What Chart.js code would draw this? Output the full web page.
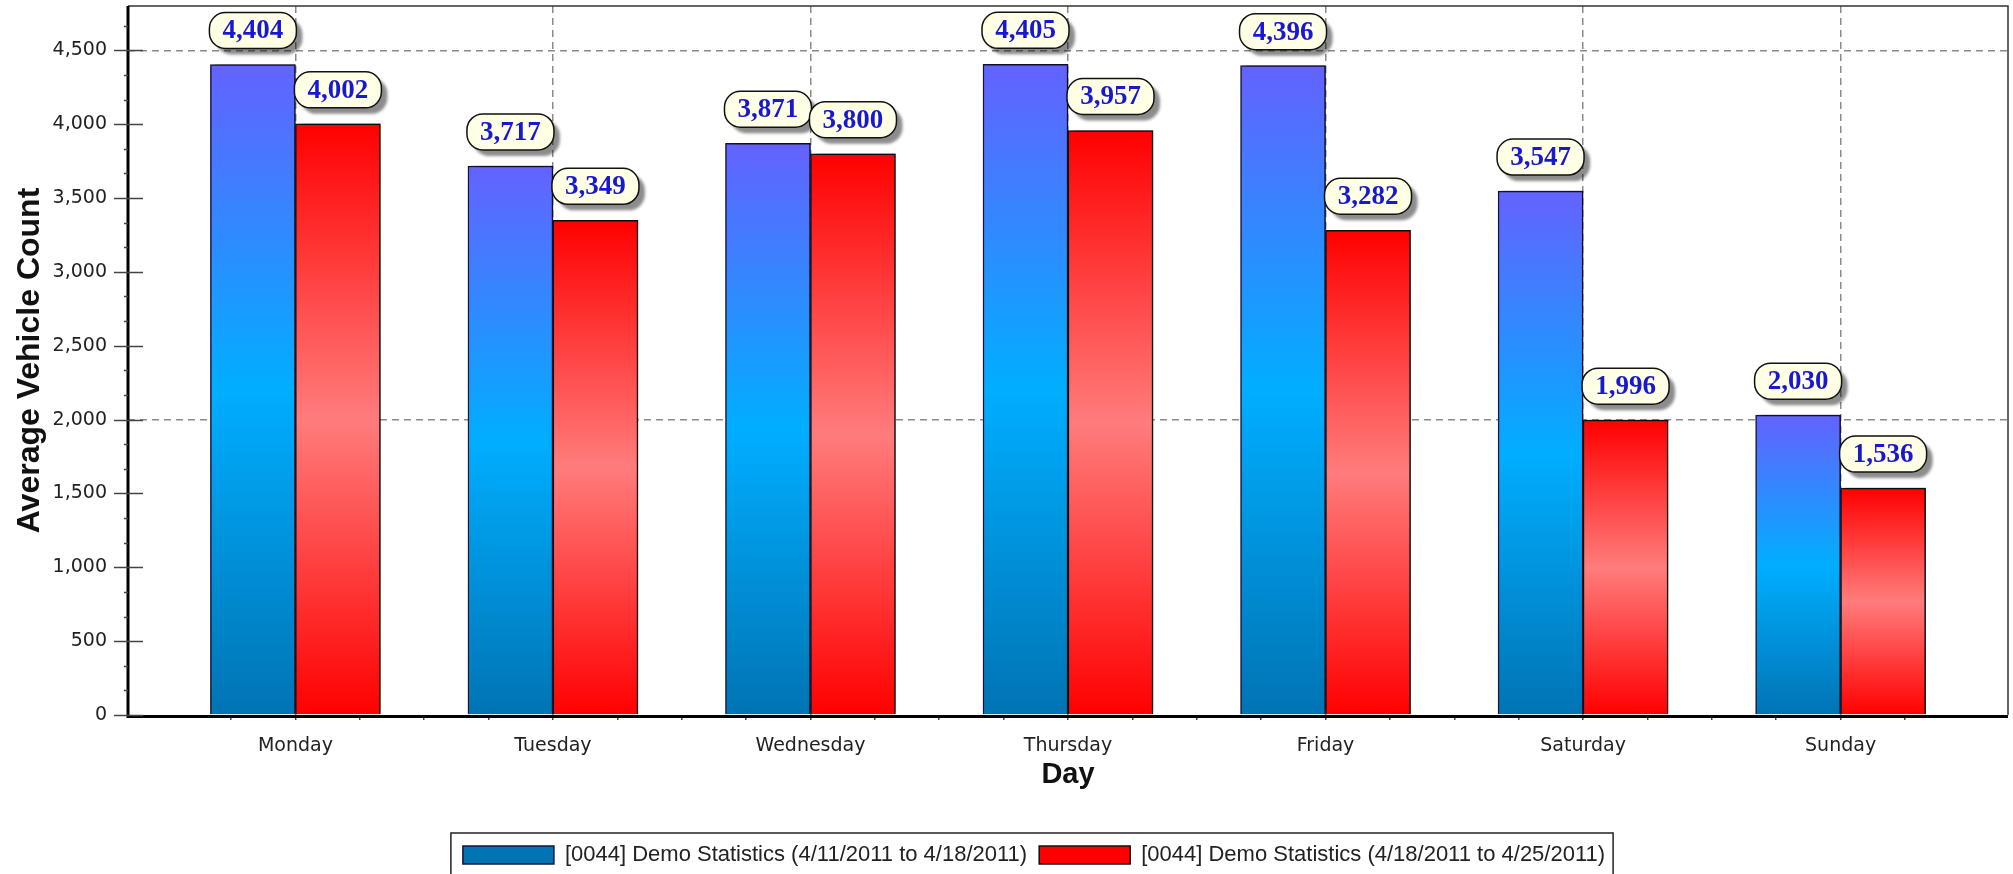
<!doctype html>
<html>
<head>
<script src="https://cdnjs.cloudflare.com/ajax/libs/Chart.js/4.4.1/chart.umd.min.js"></script>
<style>
  body { margin: 0; background: #fff; }
</style>
</head>
<body>
<canvas id="c1" width="2013" height="874"></canvas>
<script>
  let days = ['Monday', 'Tuesday', 'Wednesday', 'Thursday', 'Friday', 'Saturday', 'Sunday'];
  let week1 = [4404, 3717, 3871, 4405, 4396, 3547, 2030];
  let week2 = [4002, 3349, 3800, 3957, 3282, 1996, 1536];
  let seriesNames = ['[0044] Demo Statistics (4/11/2011 to 4/18/2011)', '[0044] Demo Statistics (4/18/2011 to 4/25/2011)'];
  let yTicks = [0, 500, 1000, 1500, 2000, 2500, 3000, 3500, 4000, 4500];
  let yMax = 4800;
  let yGridValues = [2000, 4500];

  // gradient per bar, from bar top to the zero line
  function barFill(stops, solid) {
    return function (c) {
      if (c.type !== 'data' || !c.chart.chartArea || !c.parsed) return solid;
      let y = c.chart.scales.y;
      let top = y.getPixelForValue(c.parsed.y), base = y.getPixelForValue(0);
      let g = c.chart.ctx.createLinearGradient(0, top, 0, base);
      stops.forEach(s => g.addColorStop(s[0], s[1]));
      return g;
    };
  }

  let isDay = v => Number.isInteger(v) && v >= 0 && v < days.length;
  let tickVal = c => (c && c.tick) ? c.tick.value : null;

  const decor = {
    id: 'decor',
    afterLayout(chart) {
      let lg = chart.legend, d = 30;
      lg.left += d; lg.right += d;
      lg.legendHitBoxes.forEach(h => h.left += d);
    },
    beforeDatasetsDraw(chart) {
      let c = chart.ctx;
      c.save();
      c.shadowColor = 'rgba(0,0,0,0.35)';
      c.shadowOffsetX = 5;
      c.shadowOffsetY = -3;
      c.shadowBlur = 4;
    },
    afterDatasetsDraw(chart) {
      let c = chart.ctx;
      c.restore();
      chart.data.datasets.forEach((ds, di) => {
        chart.getDatasetMeta(di).data.forEach((bar, i) => {
          let w = bar.width + 2, h = 36;
          let x = bar.x - w / 2, y = bar.y - 16 - h;
          c.save();
          c.shadowColor = 'rgba(0,0,0,0.45)';
          c.shadowOffsetX = 6; c.shadowOffsetY = 6; c.shadowBlur = 3;
          c.beginPath();
          c.roundRect(x, y, w, h, 16);
          c.fillStyle = '#FFFFE6';
          c.fill();
          c.shadowColor = 'transparent';
          c.lineWidth = 1.5;
          c.strokeStyle = '#111';
          c.stroke();
          c.fillStyle = '#1818D0';
          c.font = 'bold 27px "Liberation Serif"';
          c.textAlign = 'center';
          c.textBaseline = 'middle';
          c.fillText(ds.data[i].y.toLocaleString('en-US'), bar.x, y + h / 2 + 1);
          c.restore();
        });
      });
    },
    afterDraw(chart) {
      let c = chart.ctx, a = chart.chartArea, ys = chart.scales.y;
      c.save();
      // frame
      c.strokeStyle = '#333';
      c.lineWidth = 1.5;
      c.beginPath();
      c.moveTo(a.left, a.top); c.lineTo(a.right, a.top); c.lineTo(a.right, a.bottom);
      c.stroke();
      c.strokeStyle = '#000';
      c.lineWidth = 3;
      c.beginPath();
      c.moveTo(a.left, a.top); c.lineTo(a.left, a.bottom + 1.5); c.lineTo(a.right, a.bottom + 1.5);
      c.stroke();
      // y ticks: major crossing the axis, minor small ones
      c.strokeStyle = '#444';
      c.lineWidth = 1.5;
      let step = yTicks[1] - yTicks[0];
      for (let k = 0; k * step / 3 <= yMax; k++) {
        let v = k * step / 3, py = Math.round(ys.getPixelForValue(v)) + 0.5;
        c.beginPath();
        if (k % 3 === 0) { c.moveTo(a.left - 14, py); c.lineTo(a.left + 15, py); }
        else { c.moveTo(a.left - 4, py); c.lineTo(a.left, py); }
        c.stroke();
      }
      // legend frame
      let hb = chart.legend.legendHitBoxes;
      if (hb.length) {
        let l = hb[0].left - 12, t = hb[0].top - 11;
        let last = hb[hb.length - 1], r = last.left + last.width + 8;
        c.strokeStyle = '#222';
        c.lineWidth = 1.5;
        c.strokeRect(l, t, r - l, 880 - t);
      }
      c.restore();
    }
  };

  new Chart(document.getElementById('c1'), {
    type: 'bar',
    data: {
      datasets: [{
        label: seriesNames[0],
        data: week1.map((v, i) => ({ x: i, y: v })),
        backgroundColor: barFill([[0, '#6462FF'], [0.5, '#00AEFF'], [1, '#0074B4']], '#0078C4'),
        borderColor: '#14143A',
        borderWidth: 1.5
      }, {
        label: seriesNames[1],
        data: week2.map((v, i) => ({ x: i, y: v })),
        backgroundColor: barFill([[0, '#FF0000'], [0.5, '#FF7C7C'], [1, '#FF0000']], '#FF0000'),
        borderColor: '#111',
        borderWidth: 1.5
      }]
    },
    options: {
      responsive: false,
      animation: false,
      barThickness: 85,
      layout: { padding: { left: 0, top: 6, right: 5, bottom: -2 } },
      plugins: {
        tooltip: { enabled: false },
        legend: {
          position: 'bottom',
          labels: {
            boxWidth: 91,
            boxHeight: 18,
            padding: 12,
            color: '#222',
            font: { family: '"Liberation Sans", Arial', size: 22 }
          }
        }
      },
      scales: {
        x: {
          type: 'linear',
          offset: false,
          min: -0.65,
          max: 6.65,
          afterFit(s) { s.height = 117; s.paddingLeft = 0; s.paddingRight = 0; },
          ticks: {
            stepSize: 0.25,
            maxTicksLimit: 100,
            autoSkip: false,
            maxRotation: 0,
            padding: 15,
            color: '#222',
            font: { family: '"DejaVu Sans"', size: 19 },
            callback: v => isDay(v) ? days[v] : ''
          },
          grid: {
            offset: false,
            color: c => isDay(tickVal(c)) ? '#8a8a8a' : 'transparent',
            lineWidth: 1.5,
            tickBorderDash: [],
            tickLength: 5,
            tickWidth: 1.5,
            tickColor: c => { let v = tickVal(c); return (v !== null && v > -0.6 && v < 6.6) ? '#444' : 'transparent'; }
          },
          border: { display: false, dash: [7, 5] },
          title: {
            display: true,
            text: 'Day',
            color: '#111',
            font: { family: '"Liberation Sans", Arial', size: 29, weight: 'bold' },
            padding: { top: 0, bottom: 40 }
          }
        },
        y: {
          min: 0,
          max: yMax,
          afterBuildTicks(s) { s.ticks = yTicks.map(v => ({ value: v })); },
          afterFit(s) { s.width = 128; s.paddingTop = 0; s.paddingBottom = 0; },
          ticks: {
            padding: 7,
            color: '#222',
            font: { family: '"DejaVu Sans"', size: 19 },
            callback: v => v.toLocaleString('en-US')
          },
          grid: {
            color: c => yGridValues.includes(tickVal(c)) ? '#8a8a8a' : 'transparent',
            lineWidth: 1.5,
            tickLength: 14,
            tickColor: 'transparent'
          },
          border: { display: false, dash: [7, 5] },
          title: {
            display: true,
            text: 'Average Vehicle Count',
            color: '#111',
            font: { family: '"Liberation Sans", Arial', size: 32, weight: 'bold' },
            padding: { top: 11, bottom: 0 }
          }
        }
      }
    },
    plugins: [decor]
  });
</script>
</body>
</html>
